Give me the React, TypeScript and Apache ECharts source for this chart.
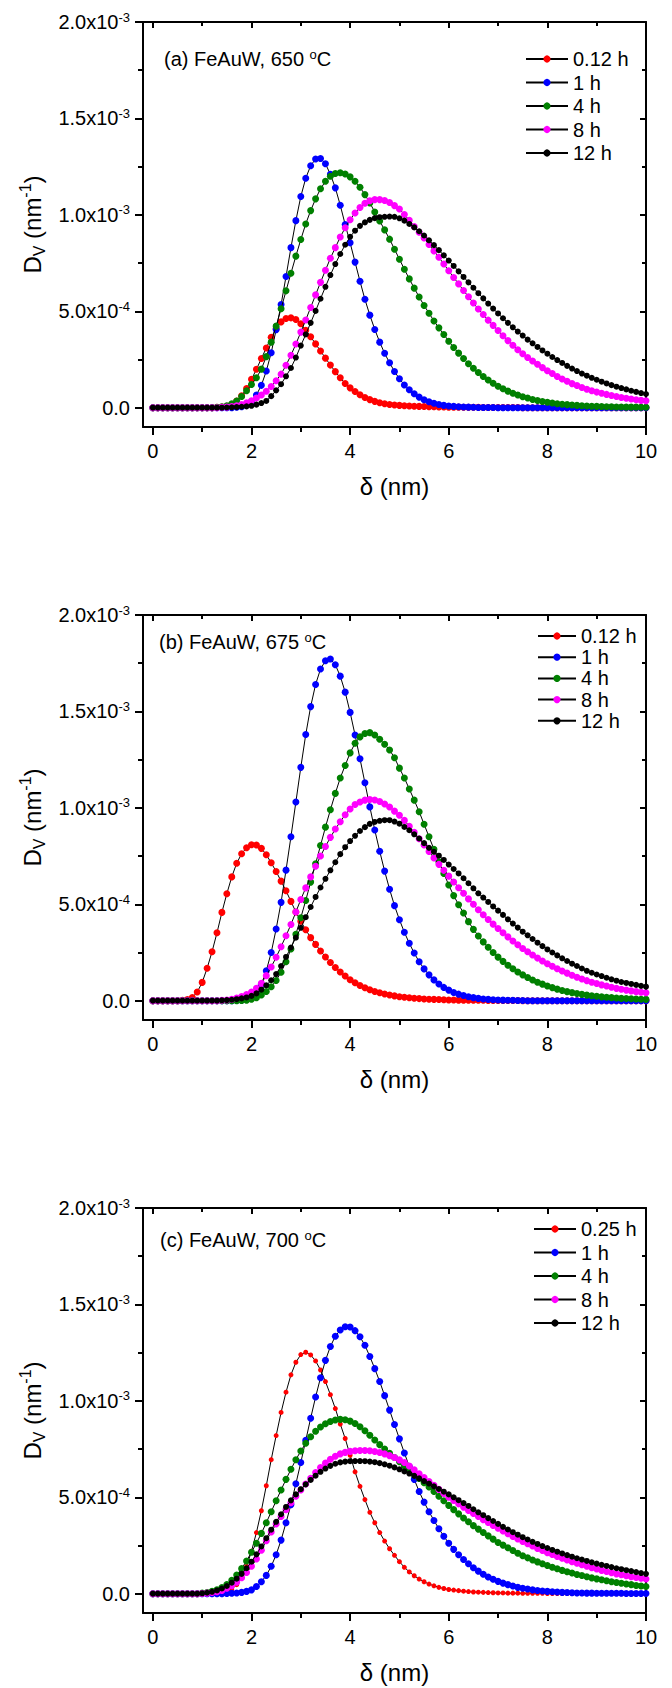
import React, { useEffect, useRef } from 'react';
import * as echarts from 'echarts';

// ---------- data (values in units of 1e-4 nm^-1) ----------
const UNIT = 1e-4;

const X = [
  0, 0.1, 0.2, 0.3, 0.4, 0.5, 0.6, 0.7, 0.8, 0.9,
  1, 1.1, 1.2, 1.3, 1.4, 1.5, 1.6, 1.7, 1.8, 1.9,
  2, 2.1, 2.2, 2.3, 2.4, 2.5, 2.6, 2.7, 2.8, 2.9,
  3, 3.1, 3.2, 3.3, 3.4, 3.5, 3.6, 3.7, 3.8, 3.9,
  4, 4.1, 4.2, 4.3, 4.4, 4.5, 4.6, 4.7, 4.8, 4.9,
  5, 5.1, 5.2, 5.3, 5.4, 5.5, 5.6, 5.7, 5.8, 5.9,
  6, 6.1, 6.2, 6.3, 6.4, 6.5, 6.6, 6.7, 6.8, 6.9,
  7, 7.1, 7.2, 7.3, 7.4, 7.5, 7.6, 7.7, 7.8, 7.9,
  8, 8.1, 8.2, 8.3, 8.4, 8.5, 8.6, 8.7, 8.8, 8.9,
  9, 9.1, 9.2, 9.3, 9.4, 9.5, 9.6, 9.7, 9.8, 9.9,
  10,
];

// (a) 650 C
const A_012 = [
  0, 0, 0, 0, 0, 0, 0, 0, 0, 0,
  0, 0, 0, 0.02, 0.04, 0.08, 0.17, 0.35, 0.62, 1.0,
  1.47, 1.99, 2.55, 3.1, 3.65, 4.1, 4.45, 4.63, 4.66, 4.57,
  4.35, 4.02, 3.68, 3.31, 2.94, 2.57, 2.21, 1.87, 1.55, 1.26,
  1.03, 0.84, 0.67, 0.53, 0.42, 0.33, 0.26, 0.21, 0.17, 0.14,
  0.12, 0.1, 0.09, 0.08, 0.07, 0.06, 0.05, 0.05, 0.04, 0.04,
  0.03, 0.03, 0.03, 0.02, 0.02, 0.02, 0.02, 0.01, 0.01, 0.01,
  0.01, 0.01, 0.01, 0.01, 0.01, 0, 0, 0, 0, 0,
  0, 0, 0, 0, 0, 0, 0, 0, 0, 0,
  0, 0, 0, 0, 0, 0, 0, 0, 0, 0,
  0,
];
const A_1 = [
  0, 0, 0, 0, 0, 0, 0, 0, 0, 0,
  0, 0, 0, 0, 0, 0, 0, 0.02, 0.05, 0.13,
  0.32, 0.66, 1.16, 1.9, 2.85, 4.05, 5.35, 6.8, 8.3, 9.7,
  10.95, 11.9, 12.55, 12.9, 12.92, 12.65, 12.1, 11.4, 10.5, 9.5,
  8.55, 7.55, 6.56, 5.62, 4.8, 4.06, 3.4, 2.82, 2.33, 1.88,
  1.5, 1.18, 0.93, 0.72, 0.55, 0.41, 0.31, 0.23, 0.17, 0.12,
  0.09, 0.07, 0.05, 0.04, 0.03, 0.02, 0.015, 0.01, 0.01, 0.01,
  0, 0, 0, 0, 0, 0, 0, 0, 0, 0,
  0, 0, 0, 0, 0, 0, 0, 0, 0, 0,
  0, 0, 0, 0, 0, 0, 0, 0, 0, 0,
  0,
];
const A_4 = [
  0, 0, 0, 0, 0, 0, 0, 0, 0, 0,
  0, 0, 0, 0.02, 0.05, 0.1, 0.2, 0.35, 0.58, 0.88,
  1.2, 1.55, 2.0, 2.65, 3.4, 4.23, 5.13, 6.06, 6.97, 7.86,
  8.72, 9.53, 10.22, 10.83, 11.35, 11.74, 12.0, 12.14, 12.18, 12.12,
  11.97, 11.74, 11.43, 11.05, 10.62, 10.15, 9.68, 9.22, 8.74, 8.22,
  7.7, 7.18, 6.68, 6.2, 5.74, 5.3, 4.9, 4.5, 4.14, 3.8,
  3.45, 3.12, 2.83, 2.55, 2.28, 2.05, 1.83, 1.62, 1.44, 1.27,
  1.11, 0.98, 0.86, 0.75, 0.66, 0.57, 0.5, 0.43, 0.37, 0.32,
  0.28, 0.24, 0.21, 0.18, 0.16, 0.14, 0.12, 0.1, 0.09, 0.08,
  0.07, 0.06, 0.05, 0.05, 0.04, 0.04, 0.03, 0.03, 0.03, 0.02,
  0.02,
];
const A_8 = [
  0, 0, 0, 0, 0, 0, 0, 0, 0, 0,
  0, 0, 0, 0, 0.02, 0.03, 0.06, 0.1, 0.16, 0.25,
  0.36, 0.5, 0.66, 0.85, 1.1, 1.4, 1.74, 2.2, 2.72, 3.3,
  3.92, 4.55, 5.2, 5.85, 6.5, 7.13, 7.75, 8.3, 8.85, 9.33,
  9.75, 10.1, 10.38, 10.6, 10.73, 10.79, 10.79, 10.74, 10.64, 10.48,
  10.3, 10.02, 9.72, 9.4, 9.1, 8.8, 8.46, 8.13, 7.8, 7.45,
  7.1, 6.75, 6.42, 6.08, 5.75, 5.43, 5.12, 4.83, 4.54, 4.27,
  4.0, 3.73, 3.48, 3.24, 3.01, 2.8, 2.6, 2.42, 2.25, 2.08,
  1.92, 1.77, 1.62, 1.49, 1.37, 1.25, 1.15, 1.05, 0.96, 0.88,
  0.81, 0.75, 0.69, 0.63, 0.58, 0.53, 0.49, 0.45, 0.41, 0.38,
  0.36,
];
const A_12 = [
  0, 0, 0, 0, 0, 0, 0, 0, 0, 0,
  0, 0, 0, 0, 0, 0.01, 0.02, 0.03, 0.05, 0.07,
  0.1, 0.16, 0.24, 0.35, 0.6, 0.9, 1.22, 1.63, 2.06, 2.6,
  3.22, 3.8, 4.4, 5.02, 5.65, 6.27, 6.88, 7.45, 7.97, 8.45,
  8.86, 9.18, 9.43, 9.61, 9.74, 9.83, 9.88, 9.9, 9.91, 9.9,
  9.82, 9.7, 9.53, 9.35, 9.15, 8.93, 8.68, 8.43, 8.17, 7.9,
  7.63, 7.35, 7.07, 6.78, 6.5, 6.22, 5.94, 5.67, 5.4, 5.14,
  4.89, 4.64, 4.4, 4.17, 3.95, 3.74, 3.53, 3.34, 3.15, 2.97,
  2.8, 2.63, 2.47, 2.32, 2.17, 2.03, 1.9, 1.77, 1.66, 1.55,
  1.45, 1.35, 1.26, 1.17, 1.09, 1.02, 0.95, 0.88, 0.82, 0.76,
  0.71,
];

// (b) 675 C
const B_012 = [
  0, 0, 0, 0, 0, 0, 0.02, 0.06, 0.17, 0.45,
  0.95, 1.68, 2.54, 3.52, 4.58, 5.55, 6.42, 7.13, 7.62, 7.93,
  8.09, 8.07, 7.9, 7.57, 7.15, 6.7, 6.2, 5.7, 5.15, 4.6,
  4.12, 3.68, 3.27, 2.92, 2.58, 2.27, 1.98, 1.72, 1.49, 1.28,
  1.09, 0.93, 0.79, 0.67, 0.57, 0.48, 0.41, 0.35, 0.3, 0.25,
  0.21, 0.18, 0.15, 0.13, 0.11, 0.09, 0.08, 0.07, 0.06, 0.05,
  0.04, 0.04, 0.03, 0.03, 0.02, 0.02, 0.02, 0.02, 0.01, 0.01,
  0.01, 0.01, 0.01, 0.01, 0.01, 0, 0, 0, 0, 0,
  0, 0, 0, 0, 0, 0, 0, 0, 0, 0,
  0, 0, 0, 0, 0, 0, 0, 0, 0, 0,
  0,
];
const B_1 = [
  0, 0, 0, 0, 0, 0, 0, 0, 0, 0,
  0, 0, 0, 0, 0, 0, 0, 0.01, 0.03, 0.07,
  0.17, 0.4, 0.85, 1.55, 2.5, 3.72, 5.1, 6.77, 8.5, 10.3,
  12.1, 13.8, 15.25, 16.4, 17.2, 17.63, 17.72, 17.42, 16.83, 16.0,
  14.95, 13.78, 12.55, 11.3, 10.05, 8.85, 7.75, 6.72, 5.78, 4.93,
  4.2, 3.55, 2.98, 2.47, 2.02, 1.65, 1.34, 1.08, 0.87, 0.69,
  0.55, 0.43, 0.34, 0.27, 0.21, 0.16, 0.12, 0.09, 0.07, 0.05,
  0.04, 0.03, 0.02, 0.02, 0.01, 0.01, 0, 0, 0, 0,
  0, 0, 0, 0, 0, 0, 0, 0, 0, 0,
  0, 0, 0, 0, 0, 0, 0, 0, 0, 0,
  0,
];
const B_4 = [
  0, 0, 0, 0, 0, 0, 0, 0, 0, 0,
  0, 0, 0, 0, 0, 0, 0, 0, 0.01, 0.03,
  0.08, 0.16, 0.3, 0.48, 0.72, 1.05, 1.48, 2.02, 2.68, 3.45,
  4.3, 5.2, 6.15, 7.1, 8.05, 9.0, 9.9, 10.75, 11.55, 12.2,
  12.85, 13.35, 13.68, 13.86, 13.9, 13.78, 13.56, 13.3, 13.0, 12.6,
  12.06, 11.55, 10.98, 10.4, 9.8, 9.15, 8.5, 7.85, 7.2, 6.6,
  6.0, 5.45, 4.98, 4.55, 4.1, 3.7, 3.36, 3.05, 2.77, 2.5,
  2.26, 2.04, 1.84, 1.66, 1.49, 1.34, 1.2, 1.07, 0.96, 0.86,
  0.76, 0.68, 0.6, 0.53, 0.47, 0.42, 0.37, 0.33, 0.29, 0.26,
  0.23, 0.2, 0.18, 0.16, 0.14, 0.12, 0.11, 0.1, 0.09, 0.08,
  0.07,
];
const B_8 = [
  0, 0, 0, 0, 0, 0, 0, 0, 0, 0,
  0, 0, 0, 0, 0.02, 0.04, 0.08, 0.14, 0.22, 0.32,
  0.45, 0.65, 0.9, 1.3, 1.75, 2.25, 2.8, 3.37, 3.95, 4.6,
  5.25, 5.85, 6.42, 6.97, 7.5, 8.0, 8.47, 8.9, 9.28, 9.64,
  9.94, 10.17, 10.3, 10.4, 10.43, 10.41, 10.33, 10.2, 10.04, 9.83,
  9.62, 9.35, 9.05, 8.73, 8.4, 8.07, 7.74, 7.4, 7.07, 6.76,
  6.46, 6.16, 5.86, 5.57, 5.28, 5.0, 4.72, 4.46, 4.21, 3.97,
  3.74, 3.52, 3.31, 3.1, 2.9, 2.71, 2.54, 2.37, 2.21, 2.06,
  1.92, 1.79, 1.66, 1.54, 1.43, 1.32, 1.22, 1.13, 1.04, 0.96,
  0.89, 0.82, 0.76, 0.7, 0.64, 0.59, 0.55, 0.51, 0.47, 0.44,
  0.41,
];
const B_12 = [
  0, 0, 0, 0, 0, 0, 0, 0, 0, 0,
  0, 0, 0, 0, 0.02, 0.03, 0.05, 0.08, 0.12, 0.17,
  0.25, 0.38, 0.57, 0.8, 1.06, 1.38, 1.8, 2.27, 2.76, 3.27,
  3.78, 4.33, 4.86, 5.38, 5.87, 6.32, 6.76, 7.18, 7.6, 7.96,
  8.28, 8.55, 8.8, 9.0, 9.17, 9.27, 9.33, 9.36, 9.36, 9.29,
  9.18, 9.01, 8.84, 8.63, 8.41, 8.17, 7.93, 7.72, 7.52, 7.3,
  7.06, 6.83, 6.6, 6.35, 6.09, 5.83, 5.57, 5.35, 5.12, 4.89,
  4.67, 4.45, 4.22, 4.0, 3.79, 3.58, 3.39, 3.2, 3.01, 2.83,
  2.66, 2.5, 2.35, 2.2, 2.06, 1.92, 1.8, 1.67, 1.55, 1.45,
  1.36, 1.28, 1.19, 1.11, 1.04, 0.97, 0.92, 0.87, 0.82, 0.77,
  0.73,
];

// (c) 700 C
const C_025 = [
  0, 0, 0, 0, 0, 0, 0, 0, 0, 0,
  0, 0, 0, 0.01, 0.04, 0.1, 0.23, 0.47, 0.85, 1.42,
  2.2, 3.17, 4.3, 5.6, 6.95, 8.2, 9.4, 10.45, 11.35, 12.0,
  12.4, 12.52, 12.38, 12.07, 11.6, 11.0, 10.32, 9.6, 8.8, 8.05,
  7.18, 6.32, 5.57, 4.88, 4.22, 3.68, 3.17, 2.73, 2.33, 1.99,
  1.66, 1.37, 1.13, 0.93, 0.76, 0.62, 0.5, 0.41, 0.33, 0.27,
  0.22, 0.19, 0.16, 0.13, 0.11, 0.09, 0.08, 0.07, 0.06, 0.05,
  0.04, 0.04, 0.03, 0.03, 0.03, 0.02, 0.02, 0.02, 0.02, 0.02,
  0.01, 0.01, 0.01, 0.01, 0.01, 0.01, 0.01, 0.01, 0.01, 0.01,
  0.01, 0.01, 0.01, 0.01, 0.01, 0, 0, 0, 0, 0,
  0,
];
const C_1 = [
  0, 0, 0, 0, 0, 0, 0, 0, 0, 0,
  0, 0, 0, 0, 0, 0.01, 0.02, 0.04, 0.07, 0.12,
  0.2, 0.37, 0.62, 0.95, 1.42, 2.02, 2.78, 3.68, 4.62, 5.7,
  6.8, 7.95, 9.1, 10.2, 11.2, 12.1, 12.82, 13.35, 13.67, 13.84,
  13.83, 13.64, 13.32, 12.88, 12.3, 11.67, 11.0, 10.27, 9.52, 8.77,
  8.03, 7.3, 6.6, 5.93, 5.3, 4.75, 4.25, 3.8, 3.37, 2.98,
  2.62, 2.3, 2.02, 1.77, 1.55, 1.35, 1.17, 1.01, 0.87, 0.75,
  0.64, 0.55, 0.47, 0.4, 0.33, 0.28, 0.24, 0.2, 0.17, 0.14,
  0.12, 0.1, 0.09, 0.07, 0.06, 0.05, 0.04, 0.04, 0.03, 0.03,
  0.02, 0.02, 0.02, 0.02, 0.02, 0.02, 0.01, 0.01, 0.01, 0.01,
  0.01,
];
const C_4 = [
  0, 0, 0, 0, 0, 0, 0, 0, 0, 0,
  0.03, 0.06, 0.12, 0.2, 0.32, 0.48, 0.7, 0.97, 1.3, 1.7,
  2.15, 2.62, 3.13, 3.68, 4.25, 4.82, 5.38, 5.93, 6.45, 6.95,
  7.4, 7.8, 8.14, 8.42, 8.64, 8.81, 8.93, 9.01, 9.04, 9.02,
  8.95, 8.83, 8.66, 8.45, 8.22, 7.97, 7.73, 7.5, 7.28, 7.06,
  6.85, 6.63, 6.42, 6.2, 5.98, 5.76, 5.53, 5.3, 5.05, 4.82,
  4.58, 4.36, 4.14, 3.93, 3.73, 3.53, 3.35, 3.17, 3.0, 2.83,
  2.66, 2.52, 2.38, 2.24, 2.1, 1.97, 1.86, 1.75, 1.65, 1.55,
  1.46, 1.37, 1.29, 1.21, 1.14, 1.07, 1.0, 0.94, 0.88, 0.82,
  0.77, 0.72, 0.67, 0.62, 0.58, 0.54, 0.5, 0.47, 0.43, 0.4,
  0.37,
];
const C_8 = [
  0, 0, 0, 0, 0, 0, 0, 0, 0, 0,
  0.01, 0.03, 0.06, 0.1, 0.17, 0.28, 0.42, 0.6, 0.83, 1.1,
  1.42, 1.8, 2.25, 2.75, 3.2, 3.62, 4.0, 4.36, 4.72, 5.05,
  5.38, 5.69, 5.99, 6.28, 6.54, 6.77, 6.97, 7.13, 7.25, 7.33,
  7.38, 7.41, 7.43, 7.43, 7.41, 7.37, 7.32, 7.25, 7.16, 7.06,
  6.94, 6.8, 6.62, 6.42, 6.22, 6.02, 5.82, 5.62, 5.41, 5.2,
  5.0, 4.83, 4.66, 4.49, 4.32, 4.16, 4.0, 3.84, 3.69, 3.54,
  3.39, 3.25, 3.11, 2.97, 2.84, 2.71, 2.59, 2.47, 2.35, 2.24,
  2.13, 2.03, 1.93, 1.84, 1.75, 1.66, 1.58, 1.5, 1.42, 1.35,
  1.28, 1.21, 1.15, 1.09, 1.03, 0.98, 0.93, 0.88, 0.84, 0.8,
  0.76,
];
const C_12 = [
  0, 0, 0, 0, 0, 0, 0, 0, 0, 0,
  0.02, 0.05, 0.1, 0.17, 0.27, 0.4, 0.57, 0.78, 1.03, 1.32,
  1.66, 2.04, 2.45, 2.88, 3.32, 3.73, 4.12, 4.5, 4.84, 5.15,
  5.42, 5.67, 5.9, 6.12, 6.32, 6.49, 6.63, 6.74, 6.81, 6.85,
  6.87, 6.88, 6.88, 6.87, 6.85, 6.82, 6.77, 6.71, 6.64, 6.55,
  6.45, 6.34, 6.23, 6.11, 5.98, 5.84, 5.71, 5.57, 5.43, 5.29,
  5.15, 5.0, 4.85, 4.7, 4.55, 4.38, 4.22, 4.07, 3.92, 3.77,
  3.62, 3.47, 3.33, 3.19, 3.06, 2.93, 2.81, 2.69, 2.58, 2.47,
  2.37, 2.27, 2.18, 2.09, 2.0, 1.92, 1.84, 1.77, 1.7, 1.63,
  1.56, 1.5, 1.44, 1.38, 1.32, 1.27, 1.22, 1.17, 1.12, 1.07,
  1.03,
];

const NAMES_A = ['0.12 h', '1 h', '4 h', '8 h', '12 h'];
const NAMES_B = ['0.12 h', '1 h', '4 h', '8 h', '12 h'];
const NAMES_C = ['0.25 h', '1 h', '4 h', '8 h', '12 h'];
const TAGS = ['(a) FeAuW, 650 ', '(b) FeAuW, 675 ', '(c) FeAuW, 700 '];

const X_MAJOR = [0, 2, 4, 6, 8, 10];
const X_MINOR = [1, 3, 5, 7, 9];
const Y_MAJOR = [0, 5e-4, 1e-3, 1.5e-3, 2e-3];
const Y_MINOR = [2.5e-4, 7.5e-4, 1.25e-3, 1.75e-3];
const Y_MANTISSA = ['0.0', '5.0', '1.0', '1.5', '2.0'];
const Y_EXPONENT = ['', '-4', '-3', '-3', '-3'];

const SERIES_COLORS = ['#ff0000', '#0000ff', '#008000', '#ff00ff', '#000000'];

// ---------- layout ----------
const FONT = '"Liberation Sans", Arial, Helvetica, sans-serif';
const TXT = 20;
const GRID_LEFT = 143;
const GRID_WIDTH = 503;
const GRID_HEIGHT = 405;
const GRID_TOPS = [22, 615, 1208];
const LEGEND_POS = [
  { left: 525, top: 49, itemWidth: 42, itemGap: 3.5 },
  { left: 537, top: 626, itemWidth: 38, itemGap: 1.2 },
  { left: 533, top: 1219, itemWidth: 42, itemGap: 3.5 },
];
const TAG_POS = [
  { x: 164, y: 59 },
  { x: 159, y: 642 },
  { x: 160, y: 1240 },
];
const SYMBOL_SIZES = [
  [7, 7, 7, 7, 6],
  [7, 7, 7, 7, 6],
  [5, 7, 7, 7, 6],
];

const PANELS = [
  { names: NAMES_A, values: [A_012, A_1, A_4, A_8, A_12] },
  { names: NAMES_B, values: [B_012, B_1, B_4, B_8, B_12] },
  { names: NAMES_C, values: [C_025, C_1, C_4, C_8, C_12] },
];

const BLACK = '#000';
const lineStyle2 = { color: BLACK, width: 2 };

function yLabel(v: number) {
  const i = Y_MAJOR.findIndex((t) => Math.abs(t - v) < 1e-9);
  if (i < 0) return '';
  const e = Y_EXPONENT[i];
  return e ? `{b|${Y_MANTISSA[i]}x10}{s|${e}}` : `{b|${Y_MANTISSA[i]}}`;
}

function buildX(p: number) {
  const base: any = {
    type: 'value', gridIndex: p, min: -0.2, max: 10,
    splitLine: { show: false },
    axisLine: { show: false, onZero: false },
    axisLabel: { show: false },
    axisTick: { show: false },
  };
  return [
    {
      ...base, position: 'bottom',
      axisLine: { show: true, onZero: false, lineStyle: lineStyle2 },
      axisTick: { show: true, inside: false, customValues: X_MAJOR, length: 8, lineStyle: lineStyle2 },
      axisLabel: {
        show: true, customValues: X_MAJOR, margin: 14, fontSize: TXT, color: BLACK, fontFamily: FONT,
        formatter: (v: number) => String(v),
      },
      name: 'δ (nm)', nameLocation: 'middle', nameGap: 47,
      nameTextStyle: { fontSize: 24, color: BLACK, fontFamily: FONT },
    },
    { ...base, position: 'bottom', axisTick: { show: true, inside: false, customValues: X_MINOR, length: 5, lineStyle: lineStyle2 } },
    {
      ...base, position: 'top',
      axisLine: { show: true, onZero: false, lineStyle: lineStyle2 },
      axisTick: { show: true, inside: true, customValues: X_MAJOR, length: 6, lineStyle: lineStyle2 },
    },
    { ...base, position: 'top', axisTick: { show: true, inside: true, customValues: X_MINOR, length: 4, lineStyle: lineStyle2 } },
  ];
}

function buildY(p: number) {
  const base: any = {
    type: 'value', gridIndex: p, min: -1e-4, max: 2e-3,
    splitLine: { show: false },
    axisLine: { show: false, onZero: false },
    axisLabel: { show: false },
    axisTick: { show: false },
  };
  return [
    {
      ...base, position: 'left',
      axisLine: { show: true, onZero: false, lineStyle: lineStyle2 },
      axisTick: { show: true, inside: false, customValues: Y_MAJOR, length: 8, lineStyle: lineStyle2 },
      axisLabel: {
        show: true, customValues: Y_MAJOR, margin: 13, formatter: yLabel,
        rich: {
          b: { fontSize: TXT, fontFamily: FONT, color: BLACK, lineHeight: 23 },
          s: { fontSize: 13, fontFamily: FONT, color: BLACK, lineHeight: 13, verticalAlign: 'top' },
        },
      },
      name: '{m|D}{sub|V}{m| (nm}{sup|-1}{m|)}',
      nameLocation: 'middle', nameGap: 96, nameRotate: 90,
      nameTextStyle: {
        rich: {
          m: { fontSize: 24, fontFamily: FONT, color: BLACK, lineHeight: 30 },
          sub: { fontSize: 16, fontFamily: FONT, color: BLACK, lineHeight: 16, verticalAlign: 'bottom' },
          sup: { fontSize: 16, fontFamily: FONT, color: BLACK, lineHeight: 16, verticalAlign: 'top' },
        },
      },
    },
    { ...base, position: 'left', axisTick: { show: true, inside: false, customValues: Y_MINOR, length: 5, lineStyle: lineStyle2 } },
    {
      ...base, position: 'right',
      axisLine: { show: true, onZero: false, lineStyle: lineStyle2 },
      axisTick: { show: true, inside: true, customValues: Y_MAJOR, length: 6, lineStyle: lineStyle2 },
    },
    { ...base, position: 'right', axisTick: { show: true, inside: true, customValues: Y_MINOR, length: 4, lineStyle: lineStyle2 } },
  ];
}

function buildOption() {
  const grid = GRID_TOPS.map((top) => ({ left: GRID_LEFT, top, width: GRID_WIDTH, height: GRID_HEIGHT }));
  const xAxis: any[] = [];
  const yAxis: any[] = [];
  const series: any[] = [];
  const legend: any[] = [];
  const graphic: any[] = [];
  PANELS.forEach((panel, p) => {
    xAxis.push(...buildX(p));
    yAxis.push(...buildY(p));
    panel.values.forEach((vals, i) => {
      series.push({
        type: 'line',
        name: panel.names[i],
        xAxisIndex: p * 4,
        yAxisIndex: p * 4,
        data: X.map((x, k) => [x, vals[k] * UNIT]),
        symbol: 'circle',
        symbolSize: SYMBOL_SIZES[p][i],
        showSymbol: true,
        lineStyle: { color: BLACK, width: 1 },
        itemStyle: { color: SERIES_COLORS[i], borderWidth: 0 },
        silent: true,
        z: 2 + i,
      });
    });
    const lp = LEGEND_POS[p];
    legend.push({
      data: panel.names,
      orient: 'vertical',
      left: lp.left,
      top: lp.top,
      itemWidth: lp.itemWidth,
      itemHeight: 9,
      itemGap: lp.itemGap,
      padding: 0,
      selectedMode: false,
      lineStyle: { width: 2, color: BLACK },
      textStyle: { fontSize: TXT, fontFamily: FONT, color: BLACK },
    });
    const tp = TAG_POS[p];
    graphic.push({
      type: 'text',
      x: tp.x,
      y: tp.y,
      style: {
        text: `{t|${TAGS[p]}}{s|o}{t|C}`,
        verticalAlign: 'middle',
        fill: BLACK,
        rich: {
          t: { fontSize: TXT, fontFamily: FONT, fill: BLACK, lineHeight: 23 },
          s: { fontSize: 13, fontFamily: FONT, fill: BLACK, lineHeight: 13, verticalAlign: 'top' },
        },
      },
    });
  });
  return {
    animation: false,
    backgroundColor: '#fff',
    textStyle: { fontFamily: FONT },
    grid, xAxis, yAxis, series, legend, graphic,
  };
}

export default function App() {
  const ref = useRef<HTMLDivElement>(null);
  useEffect(() => {
    document.body.style.margin = '0';
    if (!ref.current) return;
    const chart = echarts.init(ref.current, undefined, { renderer: 'svg' });
    chart.setOption(buildOption() as any);
    return () => chart.dispose();
  }, []);
  return (
    <div
      ref={ref}
      style={{ position: 'absolute', left: 0, top: 0, width: 672, height: 1688, background: '#fff' }}
    />
  );
}
